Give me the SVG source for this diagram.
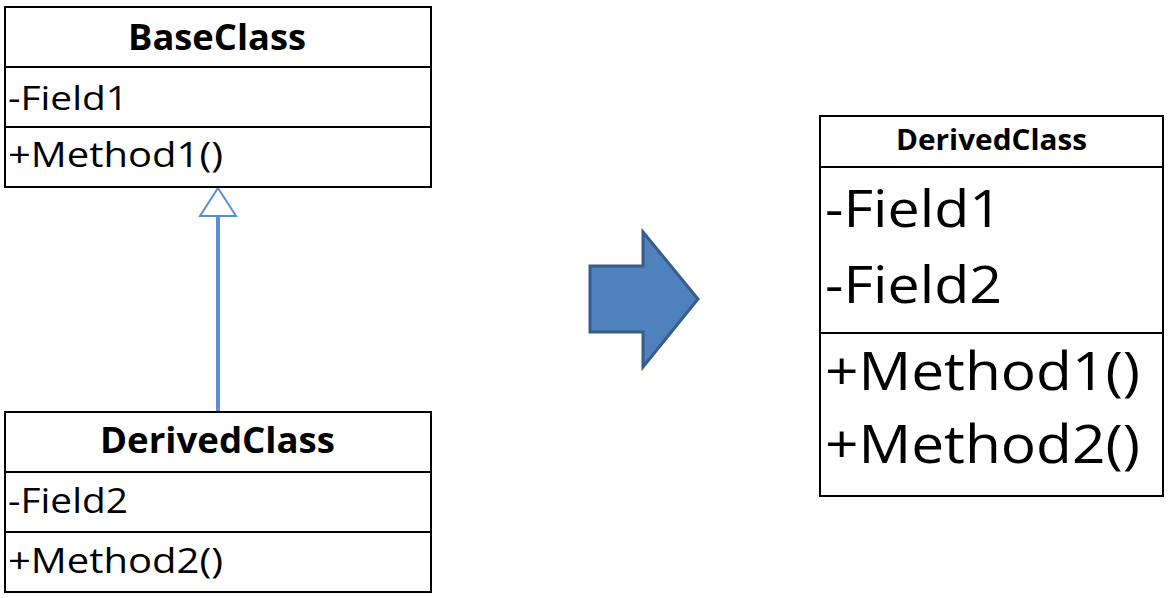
<svg xmlns="http://www.w3.org/2000/svg" width="1170" height="598" viewBox="0 0 1170 598">
<style>
.box{fill:#fff;stroke:#000;stroke-width:2}
.div{stroke:#000;stroke-width:2}
text{font-family:"Open Sans","Liberation Sans",sans-serif;fill:#000}
.t{font-weight:bold;text-anchor:middle}
.conn{stroke:#5B8ED6;stroke-width:4;fill:none}
.head{fill:#fff;stroke:#5B8ED6;stroke-width:2}
</style>
<g id="connectors">
<line class="conn" x1="218" y1="216" x2="218" y2="412"/>
<polygon class="head" points="218,188 200,216 236,216"/>
</g>
<g id="BaseClass">
<rect class="box" x="5" y="7" width="426" height="180"/>
<line class="div" x1="5" y1="67" x2="431" y2="67"/>
<line class="div" x1="5" y1="127" x2="431" y2="127"/>
<text class="t" x="217" y="50" font-size="35" textLength="178" lengthAdjust="spacingAndGlyphs">BaseClass</text>
<text x="8" y="110" font-size="33" textLength="120" lengthAdjust="spacingAndGlyphs">-Field1</text>
<text x="8" y="167" font-size="34" textLength="215" lengthAdjust="spacingAndGlyphs">+Method1()</text>
</g>
<g id="DerivedClass">
<rect class="box" x="5" y="412" width="426" height="180"/>
<line class="div" x1="5" y1="472" x2="431" y2="472"/>
<line class="div" x1="5" y1="532" x2="431" y2="532"/>
<text class="t" x="217.5" y="453" font-size="35" textLength="235" lengthAdjust="spacingAndGlyphs">DerivedClass</text>
<text x="8" y="513" font-size="34" textLength="120" lengthAdjust="spacingAndGlyphs">-Field2</text>
<text x="8" y="573" font-size="34" textLength="215" lengthAdjust="spacingAndGlyphs">+Method2()</text>
</g>
<g id="BigArrow">
<polygon points="590,266 643,266 643,232 698,299 643,367 643,332 590,332" fill="#4F81BD" stroke="#385D8A" stroke-width="3" stroke-linejoin="miter"/>
</g>
<g id="DerivedClassMerged">
<rect class="box" x="820" y="116" width="343" height="380"/>
<line class="div" x1="820" y1="167" x2="1163" y2="167"/>
<line class="div" x1="820" y1="333" x2="1163" y2="333"/>
<text class="t" x="991.5" y="150" font-size="28" textLength="191" lengthAdjust="spacingAndGlyphs">DerivedClass</text>
<text x="825" y="227" font-size="52" textLength="177" lengthAdjust="spacingAndGlyphs">-Field1</text>
<text x="825" y="303" font-size="52" textLength="177" lengthAdjust="spacingAndGlyphs">-Field2</text>
<text x="825" y="390" font-size="53" textLength="315" lengthAdjust="spacingAndGlyphs">+Method1()</text>
<text x="825" y="463" font-size="53" textLength="315" lengthAdjust="spacingAndGlyphs">+Method2()</text>
</g>
</svg>
